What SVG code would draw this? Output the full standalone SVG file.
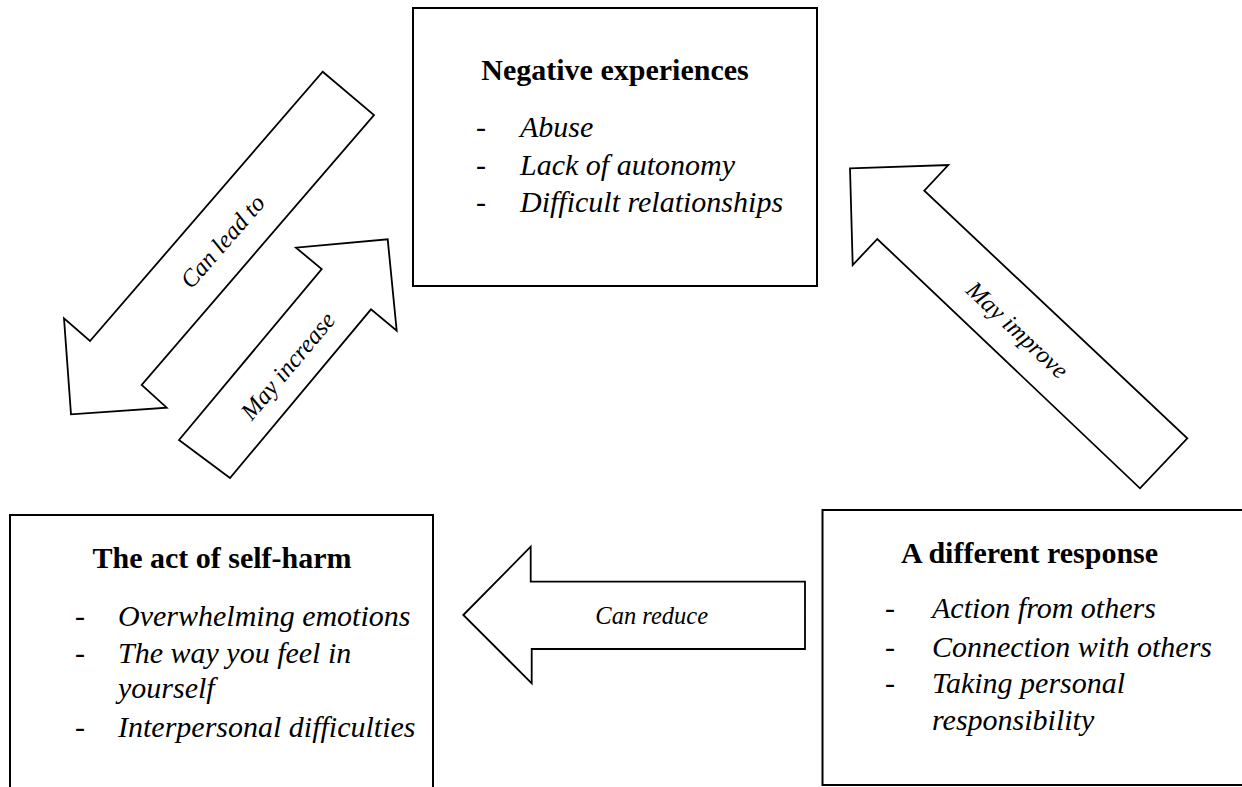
<svg xmlns="http://www.w3.org/2000/svg" width="1242" height="787" viewBox="0 0 1242 787">
<style>
.box{fill:#fff;stroke:#000;stroke-width:2}
.arrow{fill:#fff;stroke:#000;stroke-width:1.8;stroke-linejoin:miter}
.title{font-family:"Liberation Serif","Times New Roman",serif;font-weight:bold;font-size:30px;fill:#000;text-anchor:middle}
.item{font-family:"Liberation Serif","Times New Roman",serif;font-style:italic;font-size:30px;fill:#000}
.dash{font-family:"Liberation Serif","Times New Roman",serif;font-size:30px;fill:#000}
.lbl{font-family:"Liberation Serif","Times New Roman",serif;font-style:italic;font-size:24.5px;fill:#000;text-anchor:middle}
</style>
<rect width="1242" height="787" fill="#fff"/>
<g id="connectors">
  <g id="can-lead-to">
    <polygon class="arrow" points="322.7,71.7 374,115 141.7,385 166.7,407.7 71,414.3 64,318.3 90,341"/>
    <text class="lbl" transform="translate(222.7,241.7) rotate(-49)" x="0" y="8">Can lead to</text>
  </g>
  <g id="may-increase">
    <polygon class="arrow" points="179,440 230,478 371,309.3 396.7,330.7 387.7,239.3 296,247.7 321.7,269"/>
    <text class="lbl" transform="translate(288,366) rotate(-50)" x="0" y="8">May increase</text>
  </g>
  <g id="may-improve">
    <polygon class="arrow" points="850,168.3 948.3,165 924.3,190.7 1187.3,438.3 1140,488.3 877.3,239 852.7,265"/>
    <text class="lbl" transform="translate(1017.3,330) rotate(43)" x="0" y="8">May improve</text>
  </g>
  <g id="can-reduce">
    <polygon class="arrow" points="463.3,615 530.7,546.7 530.7,581.7 805,581.7 805,649 531.7,649 531.7,683.3"/>
    <text class="lbl" x="651.7" y="624">Can reduce</text>
  </g>
</g>
<g id="negative-experiences">
  <rect class="box" x="413" y="8" width="404" height="278"/>
  <text class="title" x="615" y="80">Negative experiences</text>
  <text class="dash" x="476" y="137">-</text><text class="item" x="520" y="137">Abuse</text>
  <text class="dash" x="476" y="175">-</text><text class="item" x="520" y="175">Lack of autonomy</text>
  <text class="dash" x="476" y="212">-</text><text class="item" x="520" y="212">Difficult relationships</text>
</g>
<g id="act-of-self-harm">
  <rect class="box" x="10" y="515" width="423" height="290"/>
  <text class="title" x="222" y="568">The act of self-harm</text>
  <text class="dash" x="75" y="626">-</text><text class="item" x="118" y="626">Overwhelming emotions</text>
  <text class="dash" x="75" y="663">-</text><text class="item" x="118" y="663">The way you feel in</text>
  <text class="item" x="118" y="698">yourself</text>
  <text class="dash" x="75" y="737">-</text><text class="item" x="118" y="737">Interpersonal difficulties</text>
</g>
<g id="different-response">
  <rect class="box" x="822.5" y="510" width="440" height="275"/>
  <text class="title" x="1029.5" y="563">A different response</text>
  <text class="dash" x="885" y="618">-</text><text class="item" x="932" y="618">Action from others</text>
  <text class="dash" x="885" y="657">-</text><text class="item" x="932" y="657">Connection with others</text>
  <text class="dash" x="885" y="693">-</text><text class="item" x="932" y="693">Taking personal</text>
  <text class="item" x="932" y="730">responsibility</text>
</g>
</svg>
